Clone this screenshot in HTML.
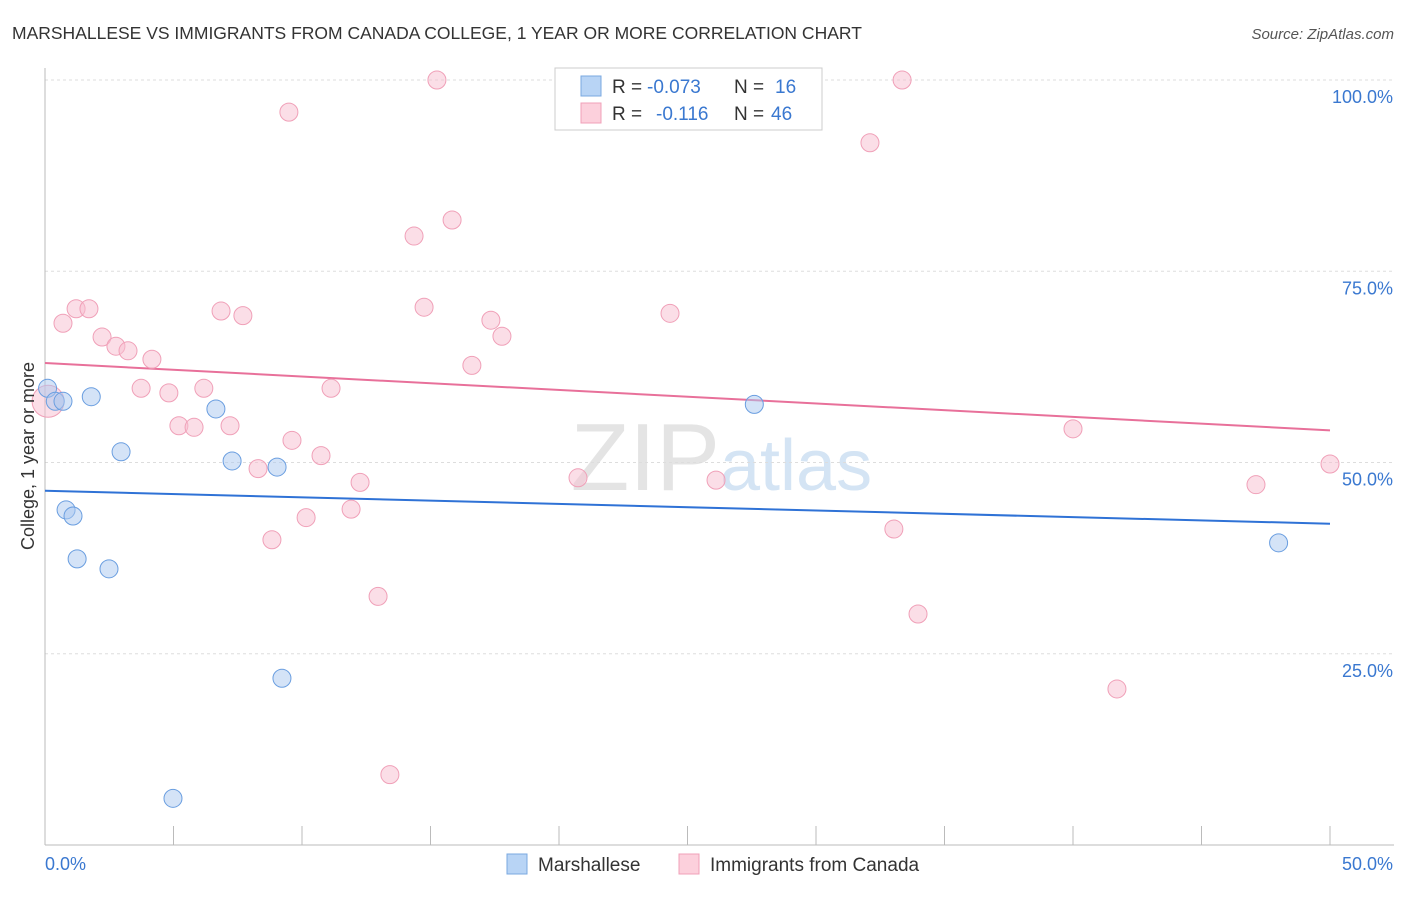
<!DOCTYPE html>
<html><head><meta charset="utf-8"><style>
body{margin:0;background:#fff;font-family:"Liberation Sans",sans-serif}
svg text{font-family:"Liberation Sans",sans-serif}
</style></head><body>
<svg id="chart" width="1406" height="892">
<text x="12" y="39" font-size="17.5" fill="#333">MARSHALLESE VS IMMIGRANTS FROM CANADA COLLEGE, 1 YEAR OR MORE CORRELATION CHART</text>
<text x="1394" y="39" font-size="15" fill="#555" text-anchor="end" font-style="italic">Source: ZipAtlas.com</text>
<text x="720" y="490" font-size="96" fill="#e4e4e4" text-anchor="end" font-family="Liberation Serif">ZIP</text>
<text x="720" y="490" font-size="72" fill="#d4e4f4">atlas</text>
<g id="grid"></g><g id="axes"></g><g id="lines"></g><g id="pts"></g>
<text x="34" y="456" font-size="18" fill="#333" text-anchor="middle" transform="rotate(-90 34 456)">College, 1 year or more</text>
<g>
<rect x="555" y="68" width="267" height="62" fill="#fff" stroke="#ccc"/>
<rect x="581" y="76" width="20" height="20" fill="#b8d4f5" stroke="#7aa8e0"/>
<rect x="581" y="103" width="20" height="20" fill="#fcd0dc" stroke="#f0a0b8"/>
<text x="612" y="93" font-size="19" fill="#333">R =</text>
<text x="647" y="93" font-size="19" fill="#3a78d0">-0.073</text>
<text x="734" y="93" font-size="19" fill="#333">N =</text>
<text x="775" y="93" font-size="19" fill="#3a78d0">16</text>
<text x="612" y="120" font-size="19" fill="#333">R =</text>
<text x="656" y="120" font-size="19" fill="#3a78d0">-0.116</text>
<text x="734" y="120" font-size="19" fill="#333">N =</text>
<text x="771" y="120" font-size="19" fill="#3a78d0">46</text>
</g>
<g>
<rect x="507" y="854" width="20" height="20" fill="#b8d4f5" stroke="#7aa8e0"/>
<text x="538" y="871" font-size="19" fill="#333">Marshallese</text>
<rect x="679" y="854" width="20" height="20" fill="#fcd0dc" stroke="#f0a0b8"/>
<text x="710" y="871" font-size="19" fill="#333">Immigrants from Canada</text>
</g>
</svg>
<script>
const blueX=[0.1,0.4,0.7,1.8,2.96,0.82,1.09,1.25,2.49,6.65,7.28,9.03,9.22,4.98,27.6,48.0];
const blueY=[59.7,58.0,58.0,58.6,51.4,43.8,43.0,37.4,36.1,57.0,50.2,49.4,21.8,6.1,57.6,39.5];
const pinkX=[0.12,0.7,1.21,1.71,2.22,2.76,3.23,4.16,3.74,4.82,6.18,5.21,5.8,7.2,6.85,7.7,8.29,8.83,9.61,10.16,10.74,11.13,11.91,12.26,12.96,13.42,9.49,14.36,14.75,15.25,15.84,16.61,17.35,17.78,20.74,24.32,26.11,32.1,33.03,33.35,33.97,40.0,41.71,47.12,50.0,28.68];
const pinkY=[58.0,68.2,70.1,70.1,66.4,65.2,64.6,63.5,59.7,59.1,59.7,54.8,54.6,54.8,69.8,69.2,49.2,39.9,52.9,42.8,50.9,59.7,43.9,47.4,32.5,9.2,95.8,79.6,70.3,100,81.7,62.7,68.6,66.5,48.0,69.5,47.7,91.8,41.3,100,30.2,54.4,20.4,47.1,49.8,100];
const yTicks=[25,50,75,100], yLab=["25.0%","50.0%","75.0%","100.0%"];
const X=v=>45+v*25.7, Y=v=>845-v*7.65;
const NS="http://www.w3.org/2000/svg";
function mk(p,t,a){const e=document.createElementNS(NS,t);for(const k in a)e.setAttribute(k,a[k]);document.getElementById(p).appendChild(e);return e;}
yTicks.forEach((t,i)=>{
 const g=mk('grid','line',{x1:45,x2:1394,y1:Y(t),y2:Y(t),stroke:'#ddd','stroke-dasharray':'3,3'});
 
 
 const l=mk('grid','text',{x:1393,y:Y(t)+23,'font-size':18,fill:'#3a78d0','text-anchor':'end'});l.textContent=yLab[i];
 
 
});
const ax=mk('axes','line',{x1:45,x2:45,y1:68,y2:845,stroke:'#bbb'});


const bx=mk('axes','line',{x1:45,x2:1394,y1:845,y2:845,stroke:'#bbb'});


for(let i=0;i<=10;i++){const t=mk('axes','line',{x1:X(i*5),x2:X(i*5),y1:826,y2:845,stroke:'#bbb'});
 
 }
const x0=mk('axes','text',{x:45,y:870,'font-size':18,fill:'#3a78d0'});x0.textContent='0.0%';


const x1=mk('axes','text',{x:1393,y:870,'font-size':18,fill:'#3a78d0','text-anchor':'end'});x1.textContent='50.0%';


pinkX.forEach((x,i)=>{const c=mk('pts','circle',{cx:X(x),cy:Y(pinkY[i]),r:i==0?16:9,fill:'rgba(248,190,208,0.5)',stroke:'#f0a0b8','stroke-width':1});
 
 });
blueX.forEach((x,i)=>{const c=mk('pts','circle',{cx:X(x),cy:Y(blueY[i]),r:9,fill:'rgba(170,200,240,0.5)',stroke:'#6a9ee0','stroke-width':1});
 
 });
const bl=mk('lines','line',{x1:X(0),x2:X(50),y1:Y(46.3),y2:Y(42.0),stroke:'#2f72d6','stroke-width':2});


const pl=mk('lines','line',{x1:X(0),x2:X(50),y1:Y(63.0),y2:Y(54.2),stroke:'#e8709a','stroke-width':2});


</script>
</body></html>
